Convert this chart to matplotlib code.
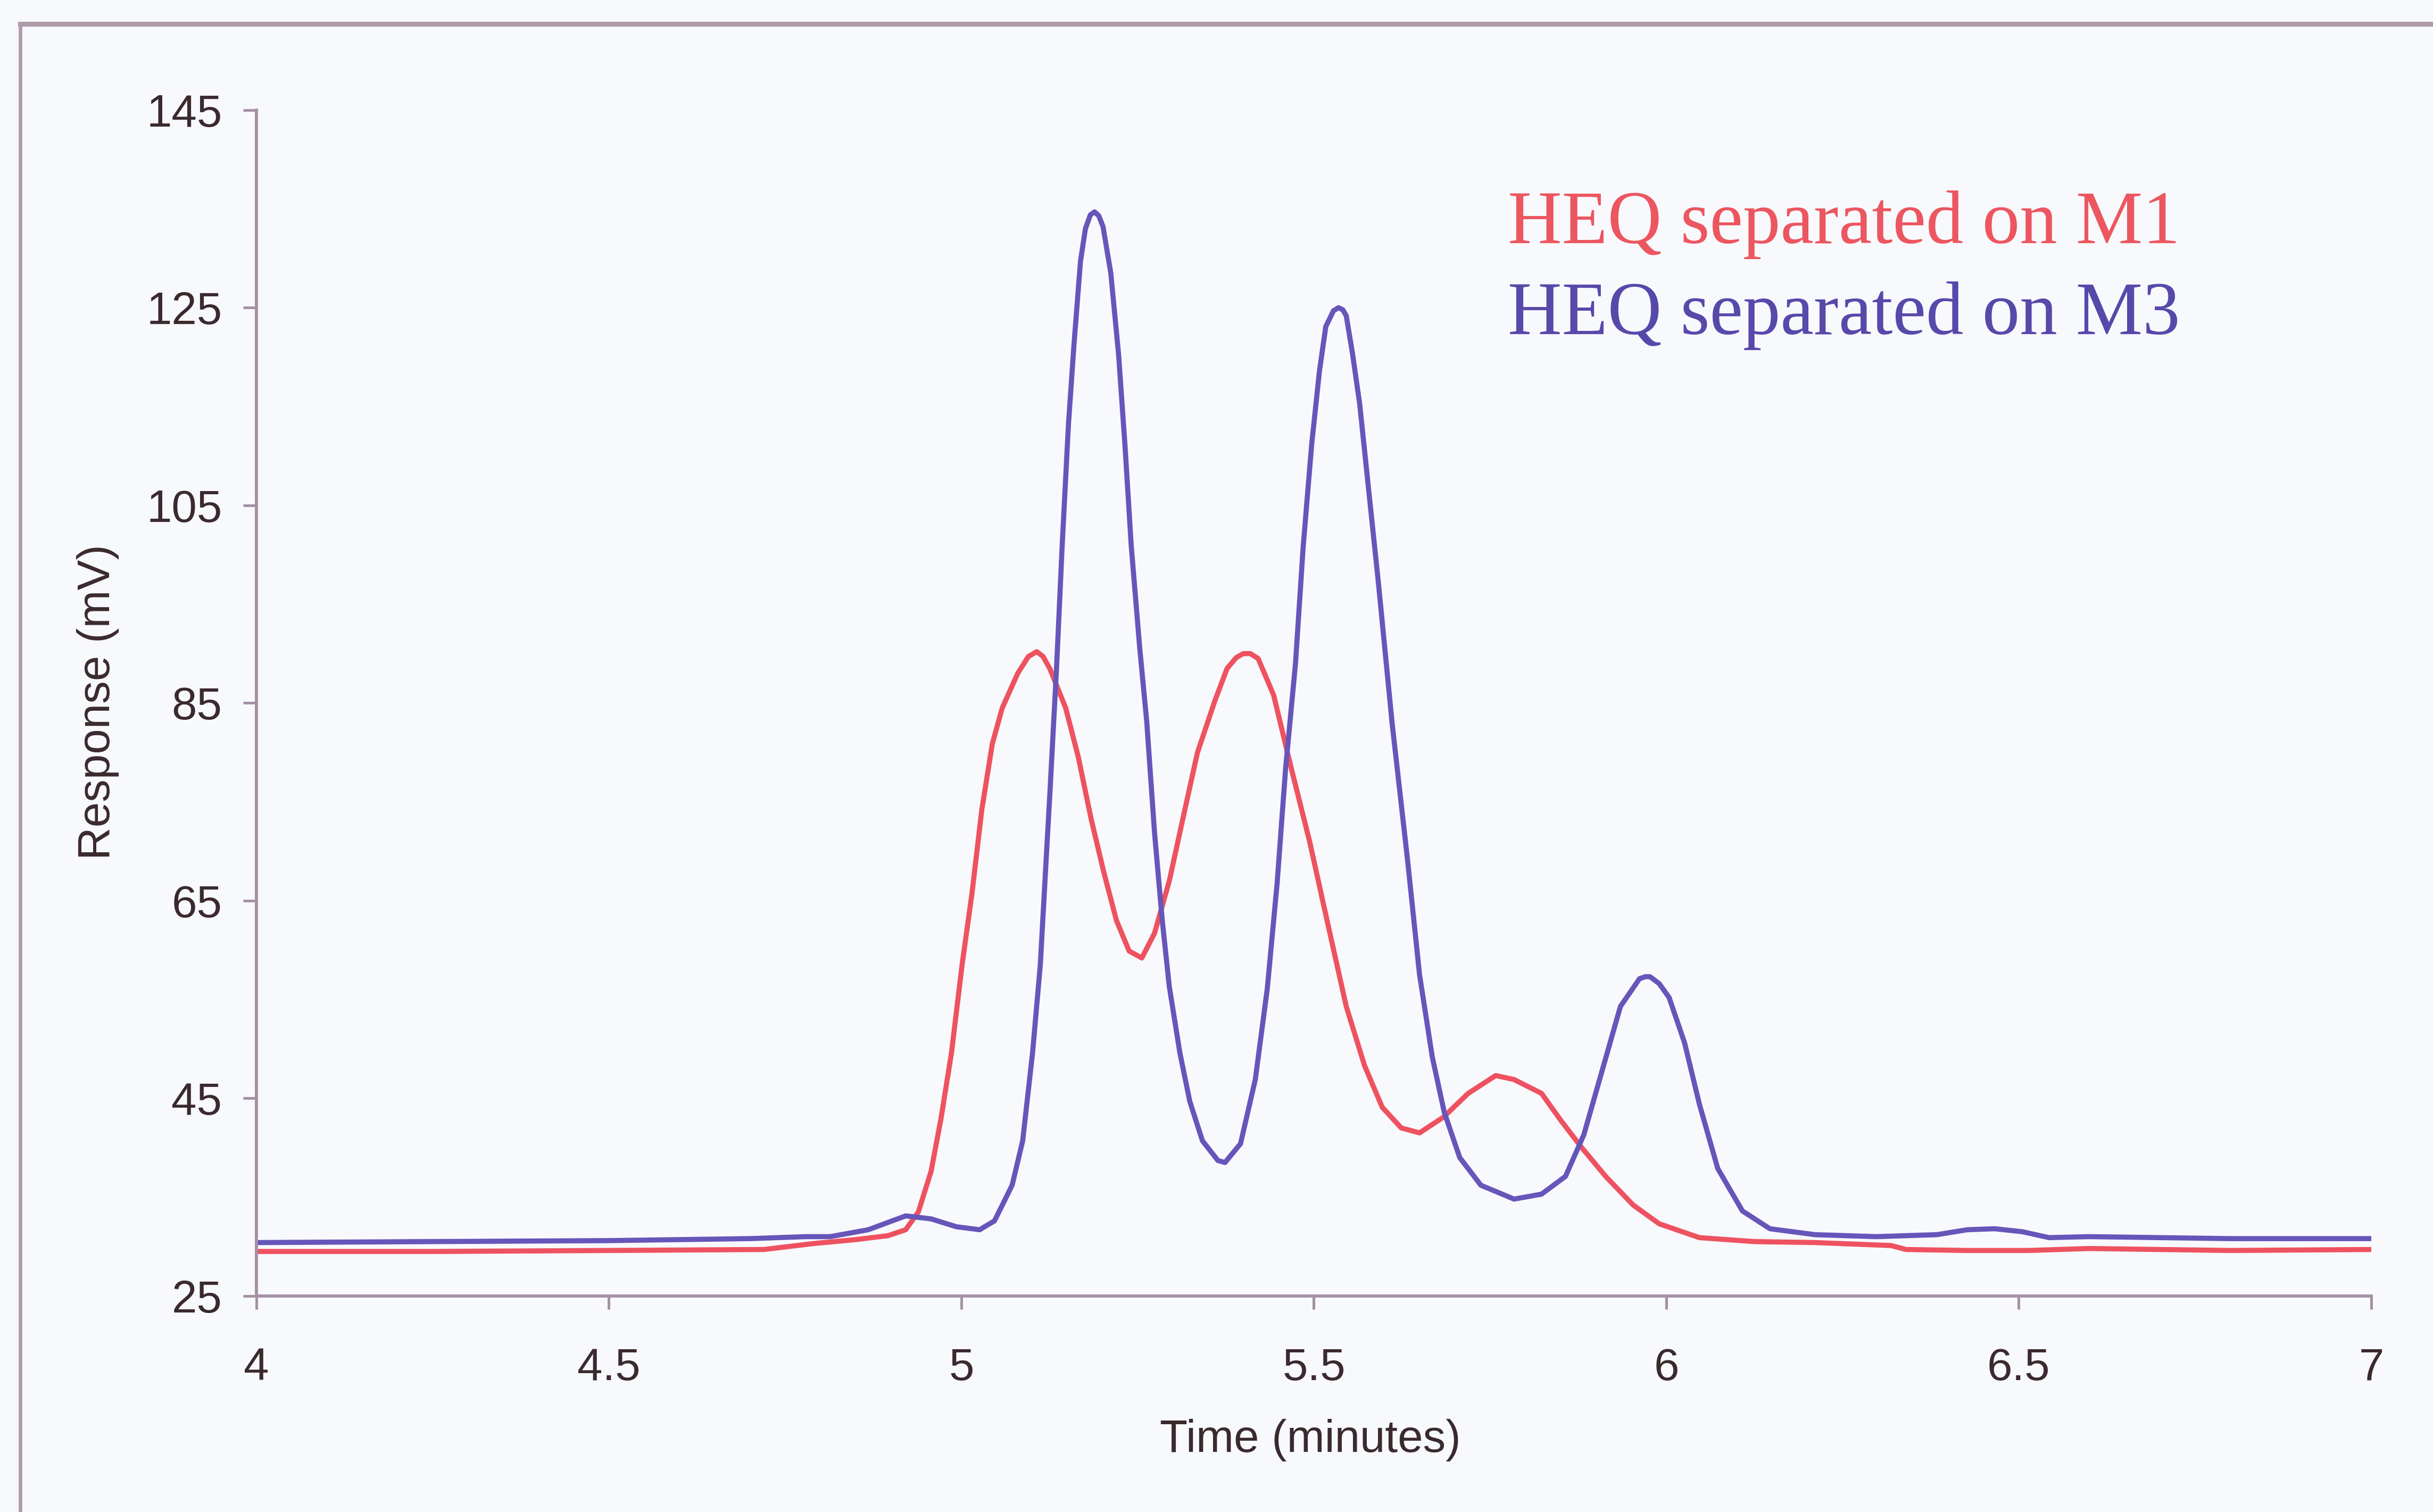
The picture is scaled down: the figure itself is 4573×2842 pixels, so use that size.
import matplotlib.pyplot as plt
from matplotlib.lines import Line2D

# Chromatogram traces (time in minutes, response in mV)
m1_time = [4.00, 4.25, 4.50, 4.72, 4.79, 4.85, 4.896, 4.921, 4.939, 4.957,
           4.971, 4.986, 5.001, 5.015, 5.029, 5.044, 5.058, 5.080, 5.095, 5.107,
           5.116, 5.126, 5.148, 5.166, 5.184, 5.202, 5.220, 5.238, 5.256, 5.274,
           5.295, 5.317, 5.335, 5.360, 5.377, 5.390, 5.400, 5.410, 5.421, 5.443,
           5.468, 5.494, 5.520, 5.546, 5.572, 5.597, 5.624, 5.650, 5.684, 5.719,
           5.758, 5.784, 5.823, 5.849, 5.879, 5.914, 5.953, 5.990, 6.047, 6.125,
           6.211, 6.319, 6.340, 6.427, 6.513, 6.60, 6.80, 7.00]
m1_resp = [29.5, 29.5, 29.6, 29.7, 30.3, 30.7, 31.1, 31.7, 33.5, 37.6,
           42.9, 49.6, 58.5, 65.7, 74.2, 80.9, 84.5, 88.0, 89.7, 90.2,
           89.7, 88.4, 84.5, 79.5, 73.3, 67.9, 63.0, 59.9, 59.2, 61.7,
           67.0, 74.2, 80.0, 85.3, 88.5, 89.6, 90.0, 90.0, 89.5, 85.8,
           78.4, 71.0, 62.6, 54.3, 48.3, 44.1, 42.0, 41.5, 43.1, 45.5,
           47.3, 46.9, 45.5, 42.9, 40.1, 37.1, 34.2, 32.3, 30.9, 30.5,
           30.4, 30.1, 29.7, 29.6, 29.6, 29.8, 29.6, 29.7]

m3_time = [4.00, 4.25, 4.50, 4.70, 4.78, 4.814, 4.868, 4.921, 4.957, 4.993,
           5.026, 5.047, 5.072, 5.087, 5.101, 5.112, 5.119, 5.126, 5.135, 5.143,
           5.152, 5.160, 5.169, 5.176, 5.183, 5.189, 5.195, 5.201, 5.212, 5.223,
           5.232, 5.241, 5.253, 5.263, 5.274, 5.285, 5.295, 5.310, 5.324, 5.342,
           5.364, 5.374, 5.396, 5.417, 5.434, 5.448, 5.460, 5.474, 5.485, 5.497,
           5.508, 5.517, 5.528, 5.535, 5.541, 5.546, 5.555, 5.565, 5.592, 5.611,
           5.633, 5.650, 5.668, 5.685, 5.707, 5.737, 5.784, 5.823, 5.857, 5.883,
           5.909, 5.935, 5.962, 5.970, 5.977, 5.990, 6.004, 6.026, 6.047, 6.073,
           6.108, 6.147, 6.211, 6.298, 6.384, 6.427, 6.466, 6.505, 6.543, 6.60,
           6.80, 7.00]
m3_resp = [30.4, 30.5, 30.6, 30.8, 31.0, 31.0, 31.7, 33.1, 32.8, 32.0,
           31.7, 32.6, 36.2, 40.7, 49.6, 58.5, 67.5, 76.4, 88.5, 100.9,
           113.3, 121.5, 129.7, 133.0, 134.4, 134.7, 134.3, 133.2, 128.5, 120.3,
           111.2, 100.9, 90.6, 83.1, 71.9, 63.0, 56.3, 49.6, 44.7, 40.7,
           38.7, 38.5, 40.4, 46.9, 56.1, 66.8, 78.4, 89.0, 100.9, 111.2,
           118.6, 123.1, 124.7, 125.0, 124.8, 124.2, 120.3, 115.3, 96.9, 83.0,
           69.1, 57.5, 49.2, 43.6, 39.0, 36.2, 34.8, 35.3, 37.1, 41.3,
           47.8, 54.3, 57.1, 57.3, 57.3, 56.6, 55.2, 50.6, 44.4, 37.9,
           33.6, 31.8, 31.2, 31.0, 31.2, 31.7, 31.8, 31.5, 30.9, 31.0,
           30.8, 30.8]

x_ticks = [4, 4.5, 5, 5.5, 6, 6.5, 7]
x_tick_labels = ['4', '4.5', '5', '5.5', '6', '6.5', '7']
y_ticks = [25, 45, 65, 85, 105, 125, 145]

red = '#ee5260'
blue = '#6656ba'
axis_col = '#a490a4'
text_col = '#3a2a2e'
bg = '#f8f9fd'

plt.rcParams['font.family'] = ['Liberation Sans', 'DejaVu Sans']

fig = plt.figure(figsize=(4573 / 300, 2842 / 300), dpi=300, facecolor=bg)
ax = fig.add_axes([0.1054, 0.1429, 0.8692, 0.7843])
ax.set_facecolor(bg)

ax.plot(m1_time, m1_resp, color=red, lw=2.3, solid_joinstyle='round')
ax.plot(m3_time, m3_resp, color=blue, lw=2.3, solid_joinstyle='round')

ax.set_xlim(4, 7)
ax.set_ylim(25, 145)
ax.set_xticks(x_ticks)
ax.set_xticklabels(x_tick_labels)
ax.set_yticks(y_ticks)

for side in ['top', 'right']:
    ax.spines[side].set_visible(False)
for side in ['left', 'bottom']:
    ax.spines[side].set_color(axis_col)
    ax.spines[side].set_linewidth(1.4)

ax.tick_params(axis='both', colors=axis_col, width=1.2, length=6,
               labelsize=20.5, labelcolor=text_col)
ax.tick_params(axis='x', pad=17)
ax.tick_params(axis='y', pad=9.5)

fig.text(0.5385, 0.0475, 'Time (minutes)', ha='center', va='center',
         fontsize=20.5, color=text_col)
fig.text(0.0402, 0.5355, 'Response (mV)', ha='center', va='center',
         rotation=90, fontsize=20.5, color=text_col)

# series labels inside the plot
fig.text(0.6197, 0.8392, 'HEQ separated on M1', ha='left', va='baseline',
         fontsize=33.8, color='#ec5660', family='Liberation Serif')
fig.text(0.6197, 0.7790, 'HEQ separated on M3', ha='left', va='baseline',
         fontsize=33.8, color='#5749aa', family='Liberation Serif')

# outer chart border (top and left edges fall inside the page)
fig.add_artist(Line2D([0.0083, 1.0], [0.9840, 0.9840], color='#ab9aa8',
                      lw=2.2, transform=fig.transFigure))
fig.add_artist(Line2D([0.0083, 0.0083], [0.0, 0.9840], color='#b09cac',
                      lw=1.6, transform=fig.transFigure))

fig.savefig('out.png', dpi=300, facecolor=bg)
